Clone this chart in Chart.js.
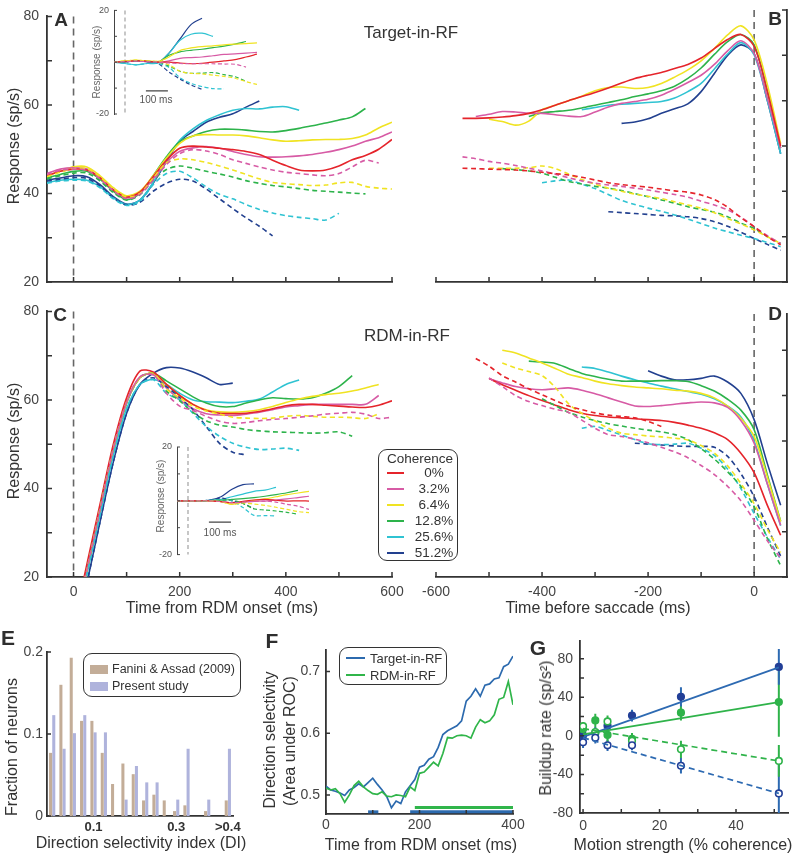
<!DOCTYPE html>
<html>
<head>
<meta charset="utf-8">
<title>Buildup activity by motion coherence</title>
<script src="https://cdn.jsdelivr.net/npm/chart.js@4.4.1/dist/chart.umd.min.js"></script>
<style>
  body { margin: 0; background: #fff; }
  #page { position: relative; width: 794px; height: 853px; overflow: hidden;
          font-family: "Liberation Sans", Arial, sans-serif; color: #333; }
  canvas { position: absolute; }
  .t { position: absolute; white-space: nowrap; transform: translate(-50%, -50%); line-height: 1; }
  .v { transform: translate(-50%, -50%) rotate(-90deg); }
  .tag { font-weight: bold; color: #2e2e2e; }
  .box { position: absolute; border: 1px solid #333; border-radius: 9px; background: #fff; box-sizing: border-box; }
  .mark { position: absolute; }
  .lg { position: absolute; white-space: nowrap; line-height: 1; transform: translateY(-50%); color: #333; }
</style>
</head>
<body>
<div id="page">
  <canvas id="cA"></canvas>
  <canvas id="cB"></canvas>
  <canvas id="cC"></canvas>
  <canvas id="cD"></canvas>
  <canvas id="cIA"></canvas>
  <canvas id="cIC"></canvas>
  <canvas id="cE"></canvas>
  <canvas id="cF"></canvas>
  <canvas id="cG"></canvas>

  <div class="t tag" style="left:61px;top:19px;font-size:19px">A</div>
  <div class="t tag" style="left:775px;top:18px;font-size:19px">B</div>
  <div class="t tag" style="left:60px;top:314px;font-size:19px">C</div>
  <div class="t tag" style="left:775px;top:313px;font-size:19px">D</div>
  <div class="t tag" style="left:8px;top:637px;font-size:21px">E</div>
  <div class="t tag" style="left:272px;top:640px;font-size:21px">F</div>
  <div class="t tag" style="left:538px;top:647px;font-size:21px">G</div>

  <div class="t" style="left:411px;top:32px;font-size:17px">Target-in-RF</div>
  <div class="t" style="left:407px;top:335px;font-size:17px">RDM-in-RF</div>
  <div class="t v" style="left:14px;top:146px;font-size:16px">Response (sp/s)</div>
  <div class="t v" style="left:14px;top:441px;font-size:16px">Response (sp/s)</div>
  <div class="t" style="left:222px;top:608px;font-size:16px">Time from RDM onset (ms)</div>
  <div class="t" style="left:598px;top:608px;font-size:16px">Time before saccade (ms)</div>

  <div class="t v" style="left:97px;top:62px;font-size:10px;color:#666">Response (sp/s)</div>
  <div class="t" style="left:156px;top:100px;font-size:10px;color:#555">100 ms</div>
  <div class="t v" style="left:161px;top:496px;font-size:10px;color:#666">Response (sp/s)</div>
  <div class="t" style="left:220px;top:533px;font-size:10px;color:#555">100 ms</div>

  <div class="t v" style="left:12px;top:747px;font-size:16px">Fraction of neurons</div>
  <div class="t" style="left:141px;top:843px;font-size:16px">Direction selectivity index (DI)</div>
  <div class="t v" style="left:270px;top:740px;font-size:16px">Direction selectivity</div>
  <div class="t v" style="left:290px;top:741px;font-size:16px">(Area under ROC)</div>
  <div class="t" style="left:421px;top:845px;font-size:16px">Time from RDM onset (ms)</div>
  <div class="t v" style="left:546px;top:728px;font-size:16px">Buildup rate (sp/s²)</div>
  <div class="t" style="left:683px;top:845px;font-size:16px">Motion strength (% coherence)</div>

  <div class="box" style="left:378px;top:449px;width:80px;height:112px"></div>
  <div class="box" style="left:83px;top:653px;width:158px;height:44px"></div>
  <div class="box" style="left:339px;top:647px;width:108px;height:38px"></div>
  <div id="legends"></div>
</div>

<script>
// ---------------------------------------------------------------------------
// Data
// ---------------------------------------------------------------------------
const _ = null;

const COH_LABELS = ['0%', '3.2%', '6.4%', '12.8%', '25.6%', '51.2%'];
const COH_COLORS = ['#e5242b', '#d75ba5', '#f0e322', '#2db34b', '#2fc3d2', '#22408f'];

// time axes (ms)
const T_ONSET = [-50, -25, 0, 25, 50, 75, 100, 125, 150, 175, 200, 225, 250, 275, 300, 325, 350, 375, 400, 425, 450, 475, 500, 525, 550, 575, 600];
const T_SACC = [-550, -525, -500, -475, -450, -425, -400, -375, -350, -325, -300, -275, -250, -225, -200, -175, -150, -125, -100, -75, -50, -25, 0, 25, 50];
const T_INSET = [-50, 0, 50, 100, 150, 200, 250, 300, 350, 400, 450, 500, 550, 600];

// A: Target-in-RF, aligned to RDM onset (sp/s)
const A_RED = [44, 45, 45.5, 45.3, 43.5, 40.8, 39.2, 40.3, 43.8, 47.5, 50.2, 50.7, 50.5, 50.2, 49.9, 49.5, 48.8, 47.5, 46.3, 45.3, 45.1, 45.3, 46.2, 47.6, 48.6, 50, 52.2];
const A_MAG = [44.5, 45.5, 45.8, 45.5, 43.5, 40.8, 39, 40, 43.3, 47, 49.5, 50.3, 50.6, 50.2, 49.5, 48.8, 48.3, 48.2, 48.3, 48.5, 48.8, 49.3, 49.9, 50.7, 51.8, 52.6, 53.9];
const A_YEL = [44, 45, 46, 46, 44, 41.3, 39.5, 40.5, 44, 48, 51.3, 53, 53.3, 53.2, 53.2, 53, 52.6, 52.1, 51.8, 51.9, 52.1, 52.2, 52.2, 52.4, 53.2, 54.8, 56.1];
const A_GRN = [43.5, 44.3, 45, 45, 43.2, 40.5, 38.6, 40, 44, 48.3, 51.7, 53, 54, 54.5, 54.5, 54.3, 54, 53.9, 54.2, 54.7, 55.3, 55.9, 56.6, 57.3, 59.2, _, _];
const A_CYN = [42.5, 43, 43.2, 43, 41.5, 39, 37.5, 38.5, 42.5, 47.5, 52, 54.6, 56.5, 57.8, 58.8, 59.2, 59.1, 59.5, 59.6, 58.8, _, _, _, _, _, _, _];
const A_DKB = [43, 43.5, 44, 43.8, 42, 39.3, 37.6, 38.5, 42.3, 47.2, 51.8, 54, 56.1, 57.2, 58, 59.5, 60.9, _, _, _, _, _, _, _, _, _, _];
const A_MAG_D = [44.3, 45.2, 45.5, 45.2, 43.3, 40.6, 38.8, 39.8, 43, 46.5, 49, 49.9, 49.6, 48.8, 47.6, 46.8, 46, 45.3, 44.8, 44.5, 44.2, 44, 44.5, 46, 47.5, 46.9, _];
const A_YEL_D = [43.8, 44.8, 45.6, 45.6, 43.7, 41, 39.2, 40, 43.5, 46.9, 47.8, 47.6, 47, 46.2, 45.3, 44.3, 43.3, 42.5, 42.2, 42, 41.8, 41.9, 42.4, 42.5, 41.6, 41.2, 41];
const A_GRN_D = [43.3, 44, 44.6, 44.6, 42.8, 40.2, 38.5, 39.7, 43, 45.4, 46.2, 45.7, 45, 44.4, 43.7, 42.9, 42.3, 41.8, 41.5, 41.1, 40.7, 40.5, 40.3, 40.1, 39.9, _, _];
const A_CYN_D = [42.3, 42.8, 43, 42.8, 41.3, 38.8, 37.3, 38.2, 42, 44.5, 45, 43.5, 41.5, 39.8, 38.8, 37.5, 36.4, 35.6, 35, 34.6, 34.3, 34, 35.5, _, _, _, _];
const A_DKB_D = [42.8, 43.2, 43.6, 43.4, 41.7, 39, 37.4, 38, 40.5, 42.3, 43.2, 42.8, 41, 38.8, 36.6, 34.5, 32.6, 30.4, _, _, _, _, _, _, _, _, _];

// A inset: difference from baseline (sp/s)
const IA_RED = [0, 0.3, 0.6, 0.4, 0, 0, -0.3, -0.6, -0.4, 0, 0.5, 1, 2, 3.1];
const IA_MAG = [0, 0.2, 0.4, 0.2, 0, 0.5, 1.5, 1.8, 2, 2.5, 3, 3.2, 3.5, 3.8];
const IA_YEL = [0, 0.5, 0.8, 0.5, 0.3, 2, 4.5, 5.5, 6, 6.3, 6.7, 7, 7.2, 7.5];
const IA_GRN = [0, 0.2, 0.5, 0.3, 0, 2.7, 4, 4.6, 5, 5.6, 6.2, 7, 8, _];
const IA_CYN = [0, -0.5, -1, -0.5, -0.3, 3.5, 8.5, 10.8, 11.2, 10, _, _, _, _];
const IA_DKB = [0, 0.1, 0.6, 0.2, -0.2, 3.5, 9, 14.5, 17, _, _, _, _, _];
const IA_MAG_D = [0, 0.2, 0.4, 0.2, 0, -0.3, -0.5, -0.6, -0.6, -0.6, -0.7, -0.8, -1.9, _];
const IA_YEL_D = [0, 0.5, 0.8, 0.5, 0.3, -1, -3.5, -4.3, -4.5, -5, -5.5, -6.2, -7.5, -8.6];
const IA_GRN_D = [0, 0.2, 0.5, 0.3, 0, -1.5, -3.5, -4.3, -4.2, -4, -4.8, -5.6, -7.4, _];
const IA_CYN_D = [0, -0.5, -1, -0.5, -0.5, -2, -6, -8.2, -9.4, -10.2, -10.3, _, _, _];
const IA_DKB_D = [0, 0.1, 0.6, 0.2, -0.5, -3.8, -6.5, -8.8, -10.5, _, _, _, _, _];

// B: Target-in-RF, aligned to saccade (sp/s)
const B_RED = [56.1, 56.1, 56.2, 56.4, 56.7, 57.2, 58, 59, 60, 60.9, 61.8, 62.8, 63.9, 64.9, 65.6, 66.2, 67.1, 68, 69.4, 71.5, 73.5, 74.6, 72, 62, 50];
const B_MAG = [_, 56.5, 57, 57.6, 57.5, 57.2, 57.2, 56.9, 56.6, 56.5, 57.5, 58.6, 59.4, 59.8, 60.3, 61.2, 62.5, 64, 65.6, 68, 71, 73.2, 70.4, 60.5, 49.5];
const B_YEL = [_, _, 55.9, 55.4, 54.6, 55.5, 58, 59, 60, 61, 62.2, 62.9, 63, 62.7, 62.9, 63.8, 65.2, 66.8, 68.8, 71.5, 74.5, 76.5, 73.4, 63.5, 50.5];
const B_GRN = [_, _, _, _, _, 56.5, 57.3, 57.6, 57.9, 58.4, 59, 59.6, 60.2, 60.9, 61.5, 62.2, 63.2, 64.9, 67.2, 70.2, 73, 74.6, 72.3, 62, 49.5];
const B_CYN = [_, _, _, _, _, _, _, _, _, 58, 58.5, 59, 59.2, 59.4, 59.6, 59.8, 60.6, 62, 63.8, 67, 70.3, 72.8, 70.1, 60, 48.3];
const B_DKB = [_, _, _, _, _, _, _, _, _, _, _, _, 55, 55.3, 56, 57.2, 58.2, 59.3, 62, 66, 70, 72.3, 70.4, 60, 48.3];
const B_RED_D = [45.1, 45, 44.9, 44.8, 44.7, 44.5, 44.2, 43.9, 43.6, 43.1, 42.5, 41.9, 41.5, 41.2, 40.9, 40.5, 40.1, 39.8, 39.2, 38.2, 36.5, 34.2, 32.2, 30, 28.2];
const B_MAG_D = [47.6, 47.2, 46.6, 46.2, 45.7, 45.1, 44.5, 43.8, 43, 42.3, 41.8, 41.4, 41.1, 40.7, 40.3, 39.8, 39.3, 38.7, 37.8, 37, 35.9, 34.3, 32.2, 30.2, 28.5];
const B_YEL_D = [_, _, 45.1, 45.1, 45.1, 45.2, 45.6, 45, 43.8, 42.6, 41.6, 40.7, 40, 39.4, 38.9, 38.4, 37.7, 37, 36.3, 35.3, 34, 32.8, 31.5, 30, 28.5];
const B_GRN_D = [_, _, _, 45, 44.8, 44.5, 44, 43.1, 42.2, 41.6, 41.1, 40.7, 40.2, 39.5, 38.8, 38.1, 37.4, 36.6, 36, 35.4, 34.4, 33, 31.8, 30, 28.5];
const B_CYN_D = [_, _, _, _, _, _, 41.9, 42.3, 42.5, 41.6, 40.6, 39.3, 38, 37.1, 36.3, 35.6, 34.8, 33.9, 32.9, 31.9, 31.1, 30.3, 29.6, 28.7, 27.8];
const B_DKB_D = [_, _, _, _, _, _, _, _, _, _, _, 35.5, 35.3, 35.1, 34.9, 34.7, 34.6, 34.4, 34, 33.3, 32.3, 31, 29.6, 28.3, 27];

// C: RDM-in-RF, aligned to RDM onset (sp/s)
const C_RED = [_, _, 9, 22.8, 36.5, 50, 60.5, 66.5, 66.3, 63.5, 61, 59, 57.6, 57, 56.9, 57, 57.4, 58, 58.7, 59, 59, 58.8, 58.6, 58.4, 58.3, 58.8, 59.8];
const C_MAG = [_, _, 8, 21.5, 35.3, 49, 59.5, 65.2, 65.7, 62.7, 60, 58, 56.9, 56.6, 56.5, 56.8, 57.2, 57.8, 58.4, 58.7, 59, 59, 59, 59, 59, 61, _];
const C_YEL = [_, _, 8, 21.5, 35.5, 49, 59.5, 65, 66, 63.5, 61, 59, 57.8, 57.3, 57.2, 57.4, 57.8, 58.5, 59.4, 60.2, 60.8, 61.2, 61.5, 62, 62.7, 63.5, _];
const C_GRN = [_, _, 8, 21.5, 35.5, 49, 59.3, 65, 66, 64.3, 62.5, 60.7, 59.3, 58.5, 58.5, 59.3, 60, 60.5, 60.3, 60.2, 60.5, 61.5, 63, 65.5, _, _, _];
const C_CYN = [_, _, 7, 20.5, 34, 47.5, 58, 63.5, 64.6, 63.5, 61.5, 60, 59.6, 59.5, 59.4, 59.7, 60.2, 61.8, 63.5, 64.5, _, _, _, _, _, _, _];
const C_DKB = [_, _, 5, 18.5, 32.5, 46, 57, 63.5, 66, 67.3, 67.2, 66.3, 65, 63.5, 63.8, _, _, _, _, _, _, _, _, _, _, _, _];
const C_MAG_D = [_, _, 8, 21.5, 35.3, 49, 59.5, 65.2, 65.7, 61.5, 58.6, 57.6, 56.3, 55.2, 54.7, 54.9, 55.3, 55.6, 55.8, 56.1, 56.4, 56.8, 57, 57.2, 56.8, 55.8, 56.1];
const C_YEL_D = [_, _, 8, 21.5, 35.5, 49, 59.5, 65, 66, 62.5, 60.5, 58.6, 57.5, 56.8, 56.1, 55.9, 55.8, 55.9, 56.3, 56.5, 56.3, 56.1, 56.1, 56, 55.8, 56.9, _];
const C_GRN_D = [_, _, 8, 21.5, 35.5, 49, 59.3, 65, 66, 62, 59.8, 57.2, 55.3, 54.3, 53.9, 53.3, 53, 52.8, 52.7, 52.6, 52.5, 52.6, 52.8, 51.8, _, _, _];
const C_CYN_D = [_, _, 7, 20.5, 34, 47.5, 58, 63.5, 64.6, 61.5, 60, 57, 54, 51.8, 50.2, 49.3, 48.8, 48.9, 49.1, 48.6, _, _, _, _, _, _, _];
const C_DKB_D = [_, _, 5, 18.5, 32.5, 46, 57, 63.5, 65, 63, 60.5, 57.8, 54, 50.2, 48.2, 47.6, _, _, _, _, _, _, _, _, _, _, _];

// C inset
const IC_RED = [0, 0, 0, 0, -0.3, -0.7, -0.2, 0.3, 0.5, 0.2, -0.1, 0, -0.1, _];
const IC_MAG = [0, 0, 0, 0, -0.3, -0.7, -0.5, -0.2, -0.1, 0.3, 0.7, 1.2, 1.7, _];
const IC_YEL = [0, 0, 0, 0, -0.3, -1.3, -0.5, 0.2, 0.7, 1.5, 2.3, 2.9, 3.5, _];
const IC_GRN = [0, 0, 0, 0.1, 0.2, 0.5, 0.8, 1.2, 1.7, 2.3, 3, 3.9, _, _];
const IC_CYN = [0, 0, 0, 0.2, 0.5, 1.5, 2.5, 3.5, 4, 5, _, _, _, _];
const IC_DKB = [0, 0, 0, 0.3, 1.5, 4.3, 6, 6.3, _, _, _, _, _, _];
const IC_MAG_D = [0, 0, 0, 0, -0.3, -0.7, -0.5, -0.2, -0.1, -0.5, -1.3, -2, -3.2, _];
const IC_YEL_D = [0, 0, 0, 0, -0.3, -1.3, -0.8, -1.2, -1.7, -2.4, -3.2, -4, -4.4, _];
const IC_GRN_D = [0, 0, 0, 0.1, 0.2, 0.3, -1, -3, -3.4, -3.8, -4.3, -5, _, _];
const IC_CYN_D = [0, 0, 0, 0.2, 0.3, 0, -2.5, -5.4, -5.5, -5.6, _, _, _, _];
const IC_DKB_D = [0, 0, 0, 0.3, 1, 0, -1, -2.9, _, _, _, _, _, _];

// D: RDM-in-RF, aligned to saccade (sp/s)
const D_RED = [_, _, 63.8, 62.4, 61.2, 60, 58.9, 57.9, 56.9, 56.1, 55.6, 55.3, 55.1, 54.9, 54.7, 54.5, 54.1, 53.5, 52.8, 51.8, 50.3, 47.3, 43, 35.8, 29.2];
const D_MAG = [_, _, 63.7, 62.8, 62, 61.5, 61.3, 61.5, 61.7, 61.2, 60.4, 59.5, 58.6, 57.7, 57.6, 57.8, 58.1, 58.4, 58.6, 58.4, 57.4, 54.5, 49.5, 40.5, 31.4];
const D_YEL = [_, _, _, 70, 69.4, 68.3, 67.2, 66, 64.7, 64, 63.2, 62.6, 62.2, 61.9, 61.7, 61.5, 61.2, 61, 60.5, 59.5, 57.7, 55, 51, 42, 32.2];
const D_GRN = [_, _, _, _, _, 67.6, 67.4, 67.1, 66, 64.9, 64.2, 63.6, 63.2, 63.2, 63.2, 63.3, 63.3, 63.1, 62.2, 61, 59.2, 56.8, 52.5, 42.5, 32.3];
const D_CYN = [_, _, _, _, _, _, _, _, _, 66.3, 66, 65.2, 64.3, 63.5, 62.8, 62.1, 61.5, 60.9, 60.3, 59.3, 57.7, 55.3, 50, 40.5, 31.3];
const D_DKB = [_, _, _, _, _, _, _, _, _, _, _, _, _, _, 65.5, 64.3, 63.5, 63.5, 63.8, 64.3, 63, 60.5, 54.7, 45, 35.8];
const D_RED_D = [_, 68.2, 66.5, 64.4, 63, 61.5, 60.2, 58.9, 57.7, 56.9, 56.2, 55.7, 55.4, 55.1, 54.3, 53.2, _, _, _, _, _, _, _, _, _];
const D_MAG_D = [_, _, 63.9, 62, 60, 58.7, 57.8, 57, 56.3, 54.6, 52.8, 51.4, 51, 50.4, 49.6, 48.6, 47.6, 46.3, 44.6, 42.6, 40, 36.8, 32.5, 28, 24.2];
const D_YEL_D = [_, _, _, 67.2, 66.1, 65.3, 64.4, 61.8, 58.2, 56.1, 54.4, 52.8, 51.7, 51.4, 51.1, 50.9, 50.6, 50.2, 49, 47.3, 44.5, 40.6, 36.2, 30.5, 25.4];
const D_GRN_D = [_, _, _, _, _, _, 59.3, 57.8, 56.3, 55.3, 54.5, 53.8, 53.3, 52.8, 52.4, 52, 51.4, 50.3, 48.3, 46, 43.2, 40, 35.5, 28.5, 22.5];
const D_CYN_D = [_, _, _, _, _, _, _, _, _, 52.8, 53.2, 52.3, 51.3, 50.3, 49.4, 49.2, 49.3, 49.5, 48.4, 46.8, 43.8, 39.5, 34, 28.8, 23.9];
const D_DKB_D = [_, _, _, _, _, _, _, _, _, _, _, _, _, 49.5, 49.3, 49.1, 48.9, 48.8, 48.8, 48.6, 46.6, 42.8, 37.7, 31, 24.6];

// E: histogram of direction selectivity index
const E_BIN_LABELS = ['', '', '', '', '0.1', '', '', '', '', '', '', '', '0.3', '', '', '', '', '>0.4'];
const E_FANINI = [0.077, 0.160, 0.193, 0.116, 0.116, 0.077, 0.039, 0.064, 0.051, 0.019, 0.026, 0.019, 0.006, 0.013, 0, 0.006, 0, 0.019];
const E_PRESENT = [0.123, 0.082, 0.101, 0.123, 0.102, 0.102, 0, 0.020, 0.061, 0.041, 0.041, 0, 0.020, 0.082, 0, 0.020, 0, 0.082];

// F: direction selectivity (area under ROC)
const T_ROC = [0, 10, 20, 30, 40, 50, 60, 70, 80, 90, 100, 110, 120, 130, 140, 150, 160, 170, 180, 190, 200, 210, 220, 230, 240, 250, 260, 270, 280, 290, 300, 310, 320, 330, 340, 350, 360, 370, 380, 390, 400];
const F_TARGET = [0.514, 0.508, 0.506, 0.503, 0.499, 0.508, 0.512, 0.518, 0.513, 0.52, 0.527, 0.517, 0.508, 0.497, 0.479, 0.49, 0.486, 0.505, 0.515, 0.525, 0.545, 0.548, 0.558, 0.562, 0.577, 0.598, 0.604, 0.608, 0.612, 0.62, 0.652, 0.66, 0.672, 0.66, 0.678, 0.68, 0.688, 0.69, 0.708, 0.712, 0.725];
const F_RDM = [0.511, 0.508, 0.51, 0.502, 0.488, 0.5, 0.515, 0.522, 0.513, 0.507, 0.502, 0.501, 0.505, 0.498, 0.497, 0.5, 0.499, 0.497, 0.513, 0.507, 0.535, 0.537, 0.545, 0.553, 0.547, 0.567, 0.593, 0.592, 0.596, 0.597, 0.596, 0.592, 0.61, 0.622, 0.617, 0.62, 0.63, 0.655, 0.658, 0.684, 0.646];
const F_SIG_TARGET = [[90, 112], [180, 400]];
const F_SIG_RDM = [[190, 400]];

// G: buildup rate vs coherence (sp/s^2)
const G_COH = [0, 3.2, 6.4, 12.8, 25.6, 51.2];
const G_TGT_PREF = [0.5, 3, 10.5, 21, 40.5, 71.5];
const G_TGT_PREF_ERR = [5, 6, 6, 6, 10, 18.5];
const G_TGT_NULL = [-6.5, -2, -9.8, -9.8, -31, -59.7];
const G_TGT_NULL_ERR = [6, 6, 6, 5, 8, 34];
const G_RDM_PREF = [7, 16, 1, -3, 24, 35];
const G_RDM_PREF_ERR = [5, 7, 7, 6, 8, 36];
const G_RDM_NULL = [10, 4, 15, -5, -14, -26];
const G_RDM_NULL_ERR = [4, 5, 6, 5, 9, 16.5];
const G_FIT_X = [0, 51.2];
const G_FIT_TGT_PREF = [-1, 71];
const G_FIT_TGT_NULL = [-2, -59.7];
const G_FIT_RDM_PREF = [1.5, 35];
const G_FIT_RDM_NULL = [7.5, -26];

// ---------------------------------------------------------------------------
// Plugins: inward tick marks, t = 0 dashed line, error bars
// ---------------------------------------------------------------------------
const inTicks = {
    id: 'inTicks',
    afterDraw(chart) {
        const ctx = chart.ctx, a = chart.chartArea;
        Object.values(chart.scales).forEach((s) => {
            const o = s.options.inTicks;
            if (!o || !o.len) return;
            ctx.save();
            ctx.strokeStyle = o.color || '#333';
            ctx.lineWidth = o.width || 1.4;
            ctx.beginPath();
            s.ticks.forEach((t) => {
                if (t.value < s.min - 1e-9 || t.value > s.max + 1e-9) return;
                const q = t.value / o.every;
                if (Math.abs(q - Math.round(q)) > 1e-6) return;
                const p = s.getPixelForValue(t.value);
                if (s.isHorizontal()) { ctx.moveTo(p, a.bottom); ctx.lineTo(p, a.bottom - o.len); }
                else if (s.position === 'right') { ctx.moveTo(a.right, p); ctx.lineTo(a.right - o.len, p); }
                else { ctx.moveTo(a.left, p); ctx.lineTo(a.left + o.len, p); }
            });
            ctx.stroke();
            ctx.restore();
        });
    },
};

const zeroLine = {
    id: 'zeroLine',
    beforeDatasetsDraw(chart, args, o) {
        if (o.at === undefined || o.at === null) return;
        const a = chart.chartArea, x = chart.scales.x.getPixelForValue(o.at), ctx = chart.ctx;
        ctx.save();
        ctx.strokeStyle = o.color;
        ctx.lineWidth = o.width;
        ctx.setLineDash(o.dash);
        ctx.beginPath();
        ctx.moveTo(x, a.top);
        ctx.lineTo(x, a.bottom);
        ctx.stroke();
        ctx.restore();
    },
};

const errorBars = {
    id: 'errorBars',
    beforeDatasetsDraw(chart) {
        const ctx = chart.ctx, a = chart.chartArea, ys = chart.scales.y;
        chart.data.datasets.forEach((ds, i) => {
            if (!ds.errors) return;
            const meta = chart.getDatasetMeta(i);
            ctx.save();
            ctx.beginPath();
            ctx.rect(a.left, a.top, a.right - a.left, a.bottom - a.top);
            ctx.clip();
            ctx.strokeStyle = ds.errColor;
            ctx.lineWidth = 2;
            ctx.beginPath();
            meta.data.forEach((pt, j) => {
                const v = ds.data[j].y, e = ds.errors[j];
                ctx.moveTo(pt.x, ys.getPixelForValue(v - e));
                ctx.lineTo(pt.x, ys.getPixelForValue(v + e));
            });
            ctx.stroke();
            ctx.restore();
        });
    },
};

Chart.register(inTicks, zeroLine, errorBars);
Chart.defaults.font.family = '"Liberation Sans", Arial, sans-serif';
Chart.defaults.color = '#444';

// ---------------------------------------------------------------------------
// Layout helpers
// ---------------------------------------------------------------------------
function place(id, box, area, side, xHidden) {
    const cv = document.getElementById(id);
    cv.width = box.w;
    cv.height = box.h;
    cv.style.left = box.x + 'px';
    cv.style.top = box.y + 'px';
    const right = side === 'right';
    return {
        cv,
        padding: {
            top: area.t - box.y,
            bottom: xHidden ? box.y + box.h - area.b : 0,
            left: right ? area.l - box.x : 0,
            right: right ? 0 : box.x + box.w - area.r,
        },
        yFit: (s) => { s.width = right ? box.x + box.w - area.r : area.l - box.x; },
        xFit: (s) => { s.height = box.y + box.h - area.b; },
    };
}

function linAxis(o) {
    return {
        type: 'linear',
        position: o.pos,
        display: o.display !== false,
        min: o.min,
        max: o.max,
        grid: { display: false, drawTicks: false },
        border: { display: true, color: o.axisColor || '#333', width: o.bw || 1.8 },
        ticks: {
            stepSize: o.step,
            includeBounds: false,
            autoSkip: false,
            maxRotation: 0,
            display: o.labels !== undefined,
            padding: o.pad || 0,
            color: o.color || '#444',
            font: { size: o.size || 14, weight: o.bold ? 'bold' : 'normal' },
            callback: o.labels || (() => ''),
        },
        inTicks: { every: o.every || o.step, len: o.len === undefined ? 5 : o.len, width: o.tw || 1.5, color: o.axisColor || '#333' },
        afterFit: o.fit,
    };
}

function onMultiple(step) {
    return (v) => {
        const q = v / step;
        return Math.abs(q - Math.round(q)) < 1e-6 ? String(Math.round(q) * step) : '';
    };
}

function trace(vals, color, width, dash) {
    return {
        data: vals, borderColor: color, borderWidth: width, borderDash: dash || [],
        pointRadius: 0, tension: 0.3, fill: false, spanGaps: false,
    };
}

function traceSets(solid, dashed, width, dash) {
    const sets = [];
    dashed.forEach((vals, i) => { if (vals) sets.push(trace(vals, COH_COLORS[i], width, dash)); });
    solid.forEach((vals, i) => sets.push(trace(vals, COH_COLORS[i], width)));
    return sets;
}

function render(frame, type, data, scales, plugins) {
    return new Chart(frame.cv, {
        type,
        data,
        options: {
            responsive: false,
            animation: false,
            events: [],
            layout: { padding: frame.padding },
            plugins: Object.assign({ legend: { display: false }, tooltip: { enabled: false } }, plugins || {}),
            scales,
        },
    });
}

const MAIN_ZERO = { at: 0, color: '#666', width: 1.6, dash: [7, 5] };
const INSET_ZERO = { at: 0, color: '#999', width: 1.1, dash: [4, 3] };
const DASH = [5, 3.5];

// ---------------------------------------------------------------------------
// A, B, C, D — population responses
// ---------------------------------------------------------------------------
function onsetPanel(id, box, area, solid, dashed, tickLabels) {
    const f = place(id, box, area, 'left');
    render(f, 'line', { labels: T_ONSET, datasets: traceSets(solid, dashed, 1.6, DASH) }, {
        x: linAxis({ pos: 'bottom', min: -50, max: 600, step: 100, fit: f.xFit,
                     labels: tickLabels ? onMultiple(200) : undefined, pad: 7 }),
        y: linAxis({ pos: 'left', min: 20, max: 80, step: 10, fit: f.yFit, labels: onMultiple(20), pad: 8 }),
    }, { zeroLine: MAIN_ZERO });
}

function saccPanel(id, box, area, ymax, solid, dashed, tickLabels) {
    const f = place(id, box, area, 'right');
    render(f, 'line', { labels: T_SACC, datasets: traceSets(solid, dashed, 1.6, DASH) }, {
        x: linAxis({ pos: 'bottom', min: -600, max: 62, step: 100, fit: f.xFit,
                     labels: tickLabels ? onMultiple(200) : undefined, pad: 7 }),
        y: linAxis({ pos: 'right', min: 20, max: ymax, step: 10, fit: f.yFit }),
    }, { zeroLine: MAIN_ZERO });
}

onsetPanel('cA', { x: 0, y: 0, w: 420, h: 300 }, { l: 47, t: 10, r: 392, b: 282 },
    [A_RED, A_MAG, A_YEL, A_GRN, A_CYN, A_DKB],
    [null, A_MAG_D, A_YEL_D, A_GRN_D, A_CYN_D, A_DKB_D], false);

saccPanel('cB', { x: 400, y: 0, w: 394, h: 300 }, { l: 436, t: 10, r: 787, b: 282 }, 80,
    [B_RED, B_MAG, B_YEL, B_GRN, B_CYN, B_DKB],
    [B_RED_D, B_MAG_D, B_YEL_D, B_GRN_D, B_CYN_D, B_DKB_D], false);

onsetPanel('cC', { x: 0, y: 295, w: 420, h: 325 }, { l: 47, t: 305, r: 392, b: 577 },
    [C_RED, C_MAG, C_YEL, C_GRN, C_CYN, C_DKB],
    [null, C_MAG_D, C_YEL_D, C_GRN_D, C_CYN_D, C_DKB_D], true);

saccPanel('cD', { x: 400, y: 295, w: 394, h: 325 }, { l: 436, t: 314, r: 787, b: 577 }, 78,
    [D_RED, D_MAG, D_YEL, D_GRN, D_CYN, D_DKB],
    [D_RED_D, D_MAG_D, D_YEL_D, D_GRN_D, D_CYN_D, D_DKB_D], true);

// Insets (difference traces) with a 100 ms scale bar
function insetPanel(id, box, area, solid, dashed, barLevel) {
    const f = place(id, box, area, 'left', true);
    const sets = traceSets(solid, dashed, 1.2, [4, 2.5]);
    sets.push({ data: [{ x: 95, y: barLevel }, { x: 195, y: barLevel }], borderColor: '#444',
                borderWidth: 1.2, pointRadius: 0, tension: 0 });
    render(f, 'line', { labels: T_INSET, datasets: sets }, {
        x: linAxis({ pos: 'bottom', display: false, min: -50, max: 600, step: 100, len: 0 }),
        y: linAxis({ pos: 'left', min: -20, max: 20, step: 10, fit: f.yFit, bw: 1, tw: 1, len: 3,
                     axisColor: '#444', color: '#555', size: 9, pad: 5,
                     labels: (v) => (Math.abs(v) === 20 ? String(v) : '') }),
    }, { zeroLine: INSET_ZERO });
}

insetPanel('cIA', { x: 70, y: 0, w: 200, h: 125 }, { l: 114, t: 6, r: 257, b: 114 },
    [IA_RED, IA_MAG, IA_YEL, IA_GRN, IA_CYN, IA_DKB],
    [null, IA_MAG_D, IA_YEL_D, IA_GRN_D, IA_CYN_D, IA_DKB_D], -11.1);

insetPanel('cIC', { x: 130, y: 435, w: 200, h: 130 }, { l: 177, t: 447, r: 320, b: 556 },
    [IC_RED, IC_MAG, IC_YEL, IC_GRN, IC_CYN, IC_DKB],
    [null, IC_MAG_D, IC_YEL_D, IC_GRN_D, IC_CYN_D, IC_DKB_D], -7.9);

// ---------------------------------------------------------------------------
// E — DI histogram
// ---------------------------------------------------------------------------
(function () {
    const f = place('cE', { x: 0, y: 630, w: 250, h: 223 }, { l: 47, t: 652, r: 233, b: 816 }, 'left');
    const yAxis = linAxis({ pos: 'left', min: 0, max: 0.2, step: 0.1, fit: f.yFit, pad: 4, len: 4, every: 0.1,
                            labels: (v) => (v === 0 ? '0' : v.toFixed(1)) });
    render(f, 'bar', {
        labels: E_BIN_LABELS,
        datasets: [
            { data: E_FANINI, backgroundColor: '#c3ad98', barPercentage: 0.95, categoryPercentage: 0.62 },
            { data: E_PRESENT, backgroundColor: '#afb3dc', barPercentage: 0.95, categoryPercentage: 0.62 },
        ],
    }, {
        x: {
            type: 'category',
            grid: { display: false, drawTicks: false },
            border: { display: true, color: '#333', width: 1.8 },
            ticks: { autoSkip: false, maxRotation: 0, padding: 4, color: '#333',
                     font: { size: 13, weight: 'bold' }, callback: (v, i) => E_BIN_LABELS[i] },
            afterFit: f.xFit,
        },
        y: yAxis,
    });
})();

// ---------------------------------------------------------------------------
// F — direction selectivity over time
// ---------------------------------------------------------------------------
(function () {
    const f = place('cF', { x: 270, y: 630, w: 260, h: 223 }, { l: 326, t: 650, r: 513, b: 814 }, 'left');
    const BLUE = '#2c6aae', GREEN = '#30b54a';
    const sets = [
        { data: F_RDM, borderColor: GREEN, borderWidth: 1.7, pointRadius: 0, tension: 0 },
        { data: F_TARGET, borderColor: BLUE, borderWidth: 1.7, pointRadius: 0, tension: 0 },
    ];
    F_SIG_TARGET.forEach(([a, b]) => sets.push({ data: [{ x: a, y: 0.4725 }, { x: b, y: 0.4725 }],
        borderColor: BLUE, borderWidth: 3, pointRadius: 0, borderCapStyle: 'butt' }));
    F_SIG_RDM.forEach(([a, b]) => sets.push({ data: [{ x: a, y: 0.4795 }, { x: b, y: 0.4795 }],
        borderColor: GREEN, borderWidth: 3, pointRadius: 0, borderCapStyle: 'butt' }));
    render(f, 'line', { labels: T_ROC, datasets: sets }, {
        x: linAxis({ pos: 'bottom', min: 0, max: 400, step: 100, fit: f.xFit, labels: onMultiple(200), pad: 3, len: 4 }),
        y: linAxis({ pos: 'left', min: 0.469, max: 0.735, step: 0.1, every: 0.1, fit: f.yFit, pad: 6, len: 4,
                     labels: (v) => { const q = v * 10; return Math.abs(q - Math.round(q)) < 1e-6 ? v.toFixed(1) : ''; } }),
    });
})();

// ---------------------------------------------------------------------------
// G — buildup rate vs motion strength
// ---------------------------------------------------------------------------
(function () {
    const f = place('cG', { x: 535, y: 625, w: 259, h: 228 }, { l: 580, t: 640, r: 792, b: 813 }, 'left');
    const BLUE = '#2d6ab2', NAVY = '#223f97', GREEN = '#2fb34a';
    const pts = (vals) => G_COH.map((c, i) => ({ x: c, y: vals[i] }));
    const fit = (vals, color, dash) => ({ data: G_FIT_X.map((x, i) => ({ x, y: vals[i] })), borderColor: color,
        borderWidth: 1.7, borderDash: dash || [], pointRadius: 0, tension: 0 });
    const marks = (vals, errs, color, errColor, open) => ({ data: pts(vals), errors: errs, errColor, showLine: false,
        pointRadius: 3.3, pointBorderWidth: 1.6, pointBorderColor: color,
        pointBackgroundColor: open ? '#fff' : color });
    render(f, 'line', {
        datasets: [
            fit(G_FIT_TGT_NULL, BLUE, [6, 4]),
            fit(G_FIT_RDM_NULL, GREEN, [6, 4]),
            fit(G_FIT_RDM_PREF, GREEN),
            fit(G_FIT_TGT_PREF, BLUE),
            marks(G_TGT_NULL, G_TGT_NULL_ERR, NAVY, BLUE, true),
            marks(G_RDM_NULL, G_RDM_NULL_ERR, GREEN, GREEN, true),
            marks(G_RDM_PREF, G_RDM_PREF_ERR, GREEN, GREEN, false),
            marks(G_TGT_PREF, G_TGT_PREF_ERR, NAVY, BLUE, false),
        ],
    }, {
        x: linAxis({ pos: 'bottom', min: -0.8, max: 53.7, step: 10, fit: f.xFit, labels: onMultiple(20), pad: 5, len: 4 }),
        y: linAxis({ pos: 'left', min: -80, max: 99, step: 20, fit: f.yFit, labels: onMultiple(40), pad: 7, len: 4 }),
    });
})();

// ---------------------------------------------------------------------------
// Legends
// ---------------------------------------------------------------------------
(function () {
    const host = document.getElementById('legends');
    function add(cls, style, text) {
        const d = document.createElement('div');
        d.className = cls;
        d.style.cssText = style;
        if (text) d.textContent = text;
        host.appendChild(d);
    }
    add('t', 'left:420px;top:459px;font-size:13.5px;color:#333', 'Coherence');
    COH_LABELS.forEach((lab, i) => {
        const y = 473 + i * 16;
        add('mark', `left:387px;top:${y - 1}px;width:17px;height:2px;background:${COH_COLORS[i]}`);
        add('t', `left:434px;top:${y}px;font-size:13.5px;color:#333`, lab);
    });
    add('mark', 'left:90px;top:665px;width:18px;height:9px;background:#c3ad98');
    add('lg', 'left:112px;top:669px;font-size:12.5px', 'Fanini & Assad (2009)');
    add('mark', 'left:90px;top:682px;width:18px;height:9px;background:#afb3dc');
    add('lg', 'left:112px;top:686px;font-size:12.5px', 'Present study');
    add('mark', 'left:346px;top:657px;width:19px;height:2px;background:#2c6aae');
    add('lg', 'left:370px;top:658px;font-size:13px', 'Target-in-RF');
    add('mark', 'left:346px;top:674px;width:19px;height:2px;background:#30b54a');
    add('lg', 'left:370px;top:675px;font-size:13px', 'RDM-in-RF');
})();
</script>
</body>
</html>
